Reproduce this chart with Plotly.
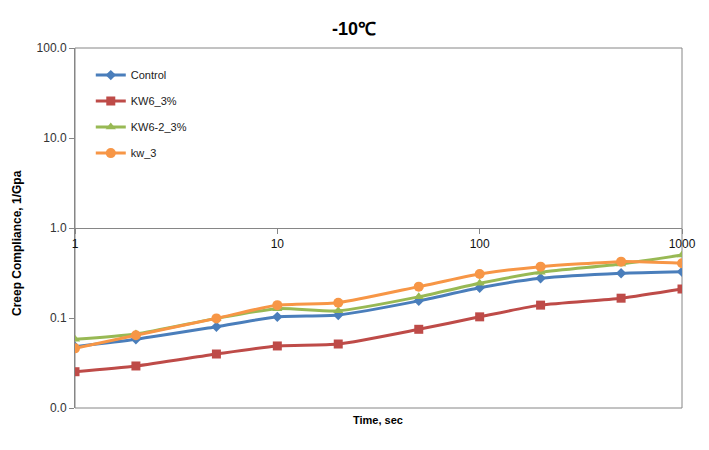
import plotly.graph_objects as go

time_s = [1, 2, 5, 10, 20, 50, 100, 200, 500, 1000]
control = [0.048, 0.058, 0.080, 0.103, 0.108, 0.155, 0.217, 0.276, 0.314, 0.327]
kw6_3 = [0.0253, 0.0293, 0.0398, 0.0489, 0.0514, 0.0749, 0.103, 0.139, 0.166, 0.210]
kw6_2_3 = [0.058, 0.0664, 0.099, 0.127, 0.120, 0.172, 0.243, 0.322, 0.398, 0.501]
kw_3 = [0.046, 0.0643, 0.099, 0.139, 0.148, 0.223, 0.308, 0.372, 0.423, 0.406]

y_tickvals = [0.01, 0.1, 1, 10, 100]
y_ticktext = ["0.0", "0.1", "1.0", "10.0", "100.0"]
x_tickvals = [1, 10, 100, 1000]
x_ticktext = ["1", "10", "100", "1000"]

series = [
    ("Control", control, "#4A7EBB", "diamond", 8),
    ("KW6_3%", kw6_3, "#BE4B48", "square", 9),
    ("KW6-2_3%", kw6_2_3, "#98B954", "triangle-up", 9),
    ("kw_3", kw_3, "#F79646", "circle", 10),
]

FONT = "Liberation Sans, Arial, sans-serif"

fig = go.Figure()
for i, (name, vals, color, sym, size) in enumerate(series):
    fig.add_trace(go.Scatter(
        x=time_s, y=vals, name=name, mode="lines+markers",
        line=dict(color=color, width=3, shape="spline", smoothing=0.6),
        marker=dict(symbol=sym, size=size, color=color),
        legendgroup=f"g{i}",
    ))

axis_color = "#868686"
# page body has an 8px default margin; figure sized so the plot area lands at 75..682 x 48..408
fig.update_layout(
    width=701, height=442,
    margin=dict(l=67, r=27, t=40, b=42),
    paper_bgcolor="white", plot_bgcolor="white",
    font=dict(family=FONT, size=11, color="#333333"),
    showlegend=True,
    legend=dict(
        x=0.026, y=0.965, xanchor="left", yanchor="top",
        bgcolor="rgba(0,0,0,0)", traceorder="grouped", tracegroupgap=7,
        font=dict(family=FONT, size=11, color="#222222"),
        itemwidth=30,
    ),
    xaxis=dict(
        type="log", range=[0, 3], anchor="free", position=0.5,
        tickvals=x_tickvals, ticktext=x_ticktext,
        showline=True, linecolor=axis_color, linewidth=1,
        ticks="outside", ticklen=5, tickcolor=axis_color,
        showgrid=False, zeroline=False,
        tickfont=dict(family=FONT, size=12, color="#111111"),
    ),
    yaxis=dict(
        type="log", range=[-2, 2],
        tickvals=y_tickvals, ticktext=y_ticktext,
        showline=True, linecolor=axis_color, linewidth=1,
        ticks="outside", ticklen=5, tickcolor=axis_color,
        showgrid=False, zeroline=False,
        tickfont=dict(family=FONT, size=12, color="#333333"),
    ),
    shapes=[dict(type="rect", xref="paper", yref="paper", x0=0, x1=1, y0=0, y1=1,
                 line=dict(color=axis_color, width=1), layer="below")],
    annotations=[
        dict(text="<b>-10℃</b>", xref="paper", yref="paper", x=(354 - 75) / 607,
             y=(408 - 29) / 360, xanchor="center", yanchor="middle", showarrow=False,
             font=dict(family=FONT, size=18, color="#000000")),
        dict(text="<b>Time, sec</b>", xref="paper", yref="paper", x=(378 - 75) / 607,
             y=(408 - 420) / 360, xanchor="center", yanchor="middle", showarrow=False,
             font=dict(family=FONT, size=11, color="#000000")),
        dict(text="<b>Creep Compliance, 1/Gpa</b>", xref="paper", yref="paper",
             x=(17 - 75) / 607, y=(408 - 243) / 360, xanchor="center", yanchor="middle",
             textangle=-90, showarrow=False,
             font=dict(family=FONT, size=12, color="#000000")),
    ],
)

fig.write_html("out.html")
